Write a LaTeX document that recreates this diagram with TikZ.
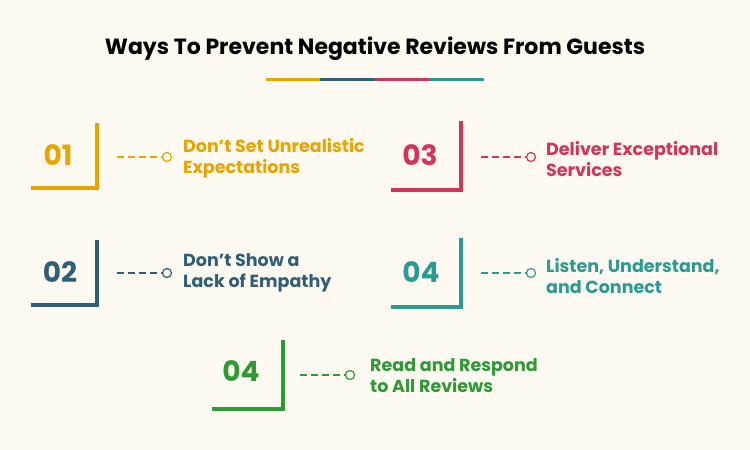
\documentclass[tikz,border=0pt]{standalone}
\usepackage{fontspec}
\setmainfont{Poppins}
\definecolor{bg}{HTML}{FEF9F1}
\definecolor{cA}{HTML}{E8A400}
\definecolor{cB}{HTML}{2F5F78}
\definecolor{cC}{HTML}{D2345A}
\definecolor{cD}{HTML}{2A9A92}
\definecolor{cE}{HTML}{2E9A35}
\tikzset{
 brk/.style={line width=4pt},
 num/.style={font=\fontsize{28}{30}\selectfont\bfseries},
 lbl/.style={anchor=west,align=left,font=\fontsize{17.5}{21}\selectfont\bfseries,inner sep=0pt},
 dsh/.style={line width=1.2pt,dash pattern=on 7pt off 4pt},
 ring/.style={circle,draw,line width=1.2pt,minimum size=9pt,inner sep=0pt,fill=bg}
}
\begin{document}
\begin{tikzpicture}[x=1pt,y=-1pt]
\fill[bg] (0,0) rectangle (750,450);
\node (title) at (375,49) {\fontsize{22}{24}\selectfont\bfseries Ways To Prevent Negative Reviews From Guests};
\foreach \a/\b/\c in {266/320/cA,320/375/cB,375/430/cC,430/484/cD}
 \draw[\c,line width=3pt] (\a,79) -- (\b,79);
\foreach \cx/\cy/\top/\lft/\nx/\ny/\n/\dx/\dy/\tx/\ty/\col/\txt/\id in {
 97/188/123/31/58/155/01/117/157/183/158/cA/{Don’t Set Unrealistic\\Expectations}/a,
 461/190/121/391/420/155/03/481/157/546/159/cC/{Deliver Exceptional\\Services}/c,
 97/305/240/31/60/272/02/117/273/183/273/cB/{Don’t Show a\\Lack of Empathy}/b,
 461/307/238/391/421/272/04/481/273/546/276/cD/{Listen, Understand,\\and Connect}/d,
 283/409/340/212/241/371/04/300/375/370/376/cE/{Read and Respond\\to All Reviews}/e}{
 \draw[brk,\col] (\cx,\top) -- (\cx,\cy) -- (\lft,\cy);
 \node[num,text=\col] (n\id) at (\nx,\ny) {\n};
 \coordinate (s\id) at (\dx,\dy);
 \node[ring,draw=\col] (r\id) at (\dx+50,\dy) {};
 \draw[dsh,\col] (s\id) -- (r\id.west);
 \node[lbl,text=\col] (t\id) at (\tx,\ty) {\txt};
}
\end{tikzpicture}
\end{document}
